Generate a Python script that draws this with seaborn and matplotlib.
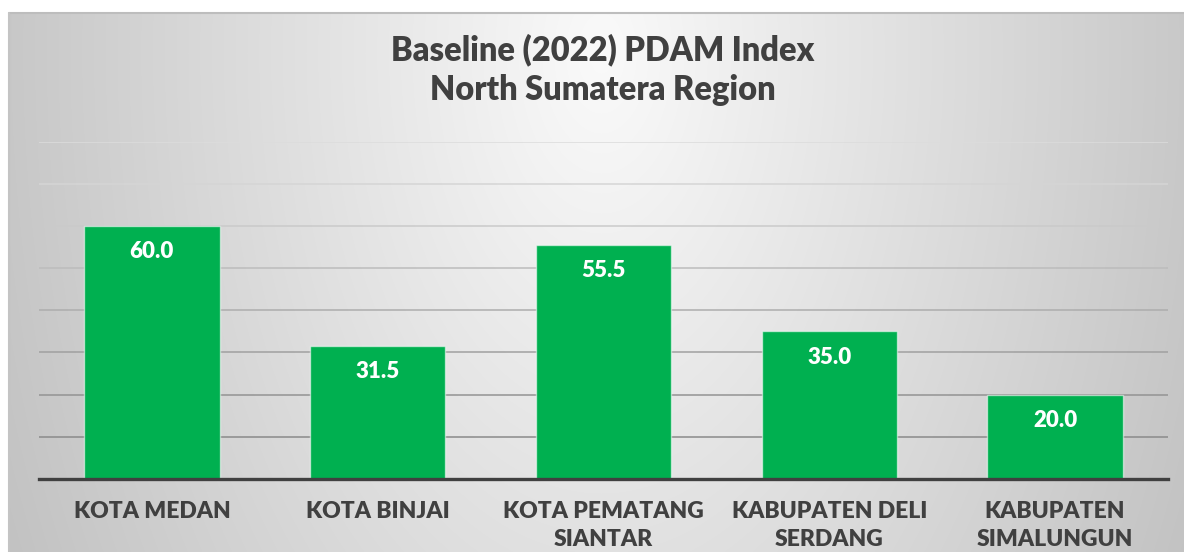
import numpy as np
import pandas as pd
import matplotlib
matplotlib.use("Agg")
import matplotlib.pyplot as plt
import seaborn as sns

# Data
regions = ["KOTA MEDAN", "KOTA BINJAI", "KOTA PEMATANG\nSIANTAR",
           "KABUPATEN DELI\nSERDANG", "KABUPATEN\nSIMALUNGUN"]
index_values = [60.0, 31.5, 55.5, 35.0, 20.0]
y_ticks = [0, 10, 20, 30, 40, 50, 60, 70, 80]

title_lines = ["Baseline (2022) PDAM Index", "North Sumatera Region"]

sns.set_theme(style="white")
plt.rcParams["font.family"] = ["Lato", "DejaVu Sans"]
WEIGHT = "heavy"

W, H = 1184, 552
fig = plt.figure(figsize=(W / 100, H / 100), dpi=100)
fig.patch.set_facecolor("white")

# Chart-area background: soft radial shading, brightest near the top centre
bg_left, bg_top = 9 / W, 1 - 13 / H
bg = fig.add_axes([bg_left, 0, 1 - bg_left, bg_top], zorder=0)
gw, gh = 1175, 539
xx, yy = np.meshgrid(np.arange(gw), np.arange(gh))
d = np.sqrt(((xx - 592) / 590.0) ** 2 + ((yy - 40) / 1000.0) ** 2)
shade = np.clip(250 - 50 * d, 0, 255) / 255.0
bg.imshow(np.dstack([shade] * 3), aspect="auto", extent=(0, 1, 0, 1),
          interpolation="bilinear")
bg.plot([0, 1], [1, 1], color="#bdbdbd", lw=1.5, transform=bg.transAxes, clip_on=False)
bg.plot([0, 0], [0, 1], color="#c4c4c4", lw=1.5, transform=bg.transAxes, clip_on=False)
bg.set_axis_off()

# Main plot area
ax = fig.add_axes([39 / W, 1 - 479 / H, (1168 - 39) / W, (479 - 141.6) / H], zorder=1)
ax.set_facecolor("none")

df = pd.DataFrame({"region": regions, "value": index_values})
sns.barplot(data=df, x="region", y="value", color="#00B050", saturation=1,
            width=0.6, edgecolor=(1, 1, 1, 0.55), linewidth=1.0, ax=ax, zorder=3)

ax.set_ylim(y_ticks[0], y_ticks[-1])
ax.set_xlim(-0.5, len(regions) - 0.5)
ax.set_yticks(y_ticks)
ax.yaxis.grid(True, linewidth=1.1, zorder=0)
ax.set_axisbelow(True)
grid_colors = ["#8a8a8a", "#8a8a8a", "#939393", "#a0a0a0", "#adadad",
               "#bcbcbc", "#cacaca", "#d5d5d5", "#dcdcdc"]
for line, c in zip(ax.get_ygridlines(), grid_colors):
    line.set_color(c)

ax.tick_params(axis="y", left=False, labelleft=False)
ax.tick_params(axis="x", bottom=False, pad=10)
for lbl in ax.get_xticklabels():
    lbl.set_fontsize(16.5)
    lbl.set_fontweight(WEIGHT)
    lbl.set_color("#404040")
    lbl.set_linespacing(1.38)
ax.set_xlabel("")
ax.set_ylabel("")

for side in ["top", "right", "left"]:
    ax.spines[side].set_visible(False)
ax.spines["bottom"].set_color("#404040")
ax.spines["bottom"].set_linewidth(2.4)
ax.spines["bottom"].set_zorder(5)

# Value labels inside the top of each bar
for i, v in enumerate(index_values):
    ax.annotate(f"{v:.1f}", xy=(i, v), xytext=(0, -18.5), textcoords="offset points",
                ha="center", va="center", color="white", fontsize=16,
                fontweight=WEIGHT, zorder=6)

fig.text(603 / W, 1 - 50 / H, title_lines[0], ha="center", va="center",
         fontsize=23.5, fontweight=WEIGHT, color="#404040")
fig.text(603 / W, 1 - 89.5 / H, title_lines[1], ha="center", va="center",
         fontsize=23.5, fontweight=WEIGHT, color="#404040")

fig.savefig("out.png", dpi=100, facecolor=fig.get_facecolor())
